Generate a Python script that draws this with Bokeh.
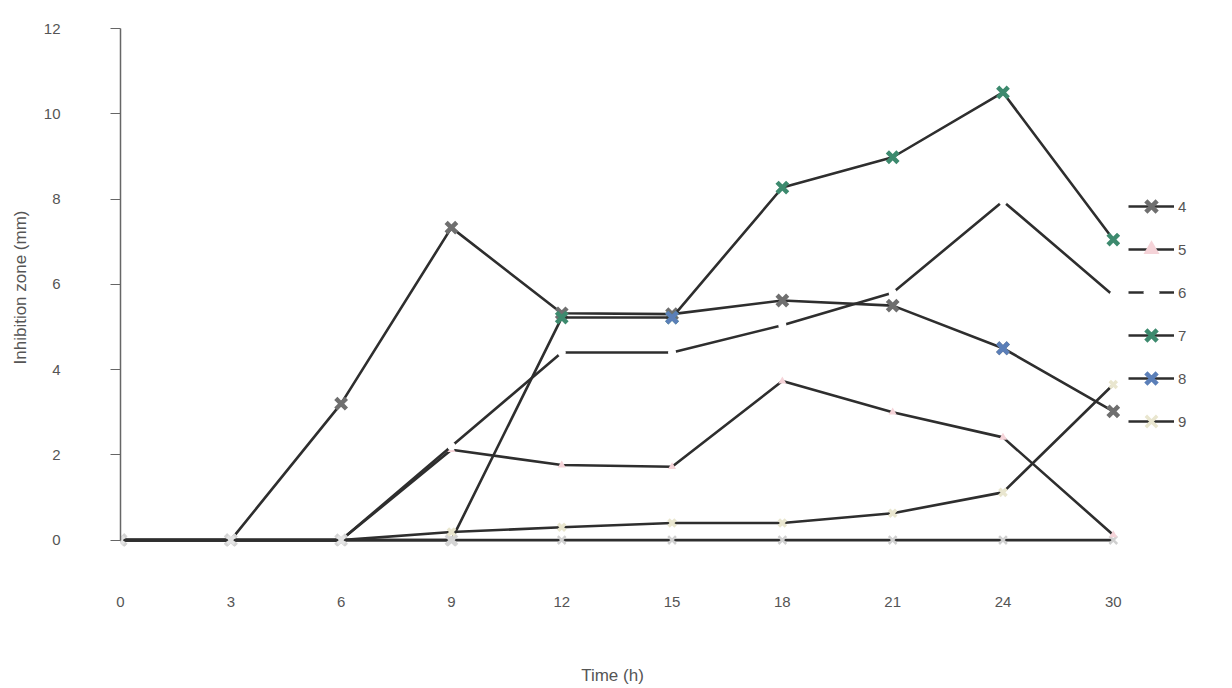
import numpy as np
from bokeh.plotting import figure
from bokeh.models import Range1d, FixedTicker, Legend, LegendItem, ColumnDataSource, LinearAxis
from bokeh.embed import file_html
from bokeh.resources import INLINE

nan = float("nan")
times = ["0", "3", "6", "9", "12", "15", "18", "21", "24", "30"]
y_ticks = [0, 2, 4, 6, 8, 10, 12]

s3 = [0, 0, 0, 0, 0, 0, 0, 0, 0, 0]
s4 = [0, 0, 3.2, 7.33, 5.32, 5.3, 5.62, 5.5, 4.5, 3.02]
s5 = [0, 0, 0, 2.12, 1.76, 1.72, 3.73, 3.0, 2.41, 0.12]
s6 = [0, 0, 0, 2.2, 4.4, 4.4, 5.04, 5.8, 7.95, 5.74]
s7 = [0, 0, 0, 0, 5.22, 5.22, 8.27, 8.98, 10.5, 7.05]
s8 = [nan, nan, nan, nan, nan, 5.22, nan, nan, 4.5, nan]
s9 = [0, 0, 0, 0.19, 0.3, 0.4, 0.4, 0.63, 1.12, 3.65]

LINE = "#2e2e2e"
TEXT = "#555555"
FONT = "Liberation Sans"

p = figure(width=1232, height=688, output_backend="svg", toolbar_location=None,
           x_range=Range1d(0, 9.99), y_range=Range1d(-0.15, 12),
           min_border_left=120, min_border_right=10, min_border_top=28, min_border_bottom=142)
p.outline_line_color = None
p.grid.visible = False
p.background_fill_color = "white"

# axes
xa = p.xaxis[0]
xa.ticker = FixedTicker(ticks=list(range(len(times))))
xa.major_label_overrides = {i: t for i, t in enumerate(times)}
xa.axis_line_color = None
xa.major_tick_line_color = None
xa.minor_tick_line_color = None
xa.major_label_standoff = 44
xa.major_label_text_font = FONT
xa.major_label_text_font_size = "15px"
xa.major_label_text_color = TEXT

# second bottom axis carries the axis title; its range is in pixel offsets
# from the title centre so that the title sits under the middle of the data
p.extra_x_ranges = {"title": Range1d(-492, 610)}
xt = LinearAxis(x_range_name="title", ticker=FixedTicker(ticks=[0]),
                major_label_overrides={0: "Time (h)"},
                axis_line_color=None, major_tick_line_color=None,
                minor_tick_line_color=None, major_tick_out=0, major_tick_in=0,
                major_label_standoff=56,
                major_label_text_font=FONT, major_label_text_font_size="17px",
                major_label_text_color=TEXT)
p.add_layout(xt, "below")

ya = p.yaxis[0]
ya.ticker = FixedTicker(ticks=y_ticks)
ya.bounds = (0, 12)
ya.axis_line_color = "#666666"
ya.axis_line_width = 1.5
ya.major_tick_line_color = "#666666"
ya.major_tick_out = 10
ya.major_tick_in = 0
ya.minor_tick_line_color = None
ya.major_label_standoff = 50
ya.major_label_text_font = FONT
ya.major_label_text_font_size = "15px"
ya.major_label_text_color = TEXT
ya.axis_label = "Inhibition zone (mm)"
ya.axis_label_text_font = FONT
ya.axis_label_text_font_size = "17px"
ya.axis_label_text_font_style = "normal"
ya.axis_label_text_color = TEXT
ya.axis_label_standoff = 11

x = list(range(len(times)))


def faded(vals, color, light):
    return [light if (v == 0) else color for v in vals]


def series(vals, marker, color, light, size, lw, fill=None):
    src = ColumnDataSource(dict(x=x, y=vals, c=faded(vals, color, light)))
    ln = p.line("x", "y", source=src, line_color=LINE, line_width=2.6)
    if fill is None:
        mk = p.scatter("x", "y", source=src, marker=marker, size=size,
                       line_color="c", line_width=lw, fill_color="c")
    else:
        mk = p.scatter("x", "y", source=src, marker=marker, size=size,
                       line_color=None, fill_color=fill)
    return ln, mk


r3 = series(s3, "x", "#bdbdbd", "#d0d0d0", 11, 2.5)
r4 = series(s4, "x", "#6f6f6f", "#d4d4d4", 15, 4.5)
r5 = series(s5, "triangle", "#f2c9cf", "#f4f4f4", 8, 1, fill="#f5d3d8")
r6 = series(s6, "circle", "white", "white", 8, 1, fill="white")
r7 = series(s7, "x", "#3d8a6e", "#d4d4d4", 15, 4.5)
r8 = series(s8, "x", "#5b7fb8", "#d4d4d4", 15, 4.5)
r9 = series(s9, "x", "#e9e6cf", "#e4e4e4", 10, 3.5)

items = [
    LegendItem(label="4", renderers=list(r4), index=3),
    LegendItem(label="5", renderers=list(r5), index=3),
    LegendItem(label="6", renderers=list(r6), index=3),
    LegendItem(label="7", renderers=list(r7), index=6),
    LegendItem(label="8", renderers=list(r8), index=5),
    LegendItem(label="9", renderers=list(r9), index=9),
]
legend = Legend(items=items, location=(1008, 105), orientation="vertical",
                glyph_width=46, glyph_height=40, label_height=40, spacing=3,
                padding=0, margin=0, label_standoff=4,
                label_text_font=FONT, label_text_font_size="15px", label_text_color=TEXT,
                border_line_color=None, background_fill_alpha=0)
p.add_layout(legend, "center")

open("out.html", "w").write(file_html(p, INLINE))
